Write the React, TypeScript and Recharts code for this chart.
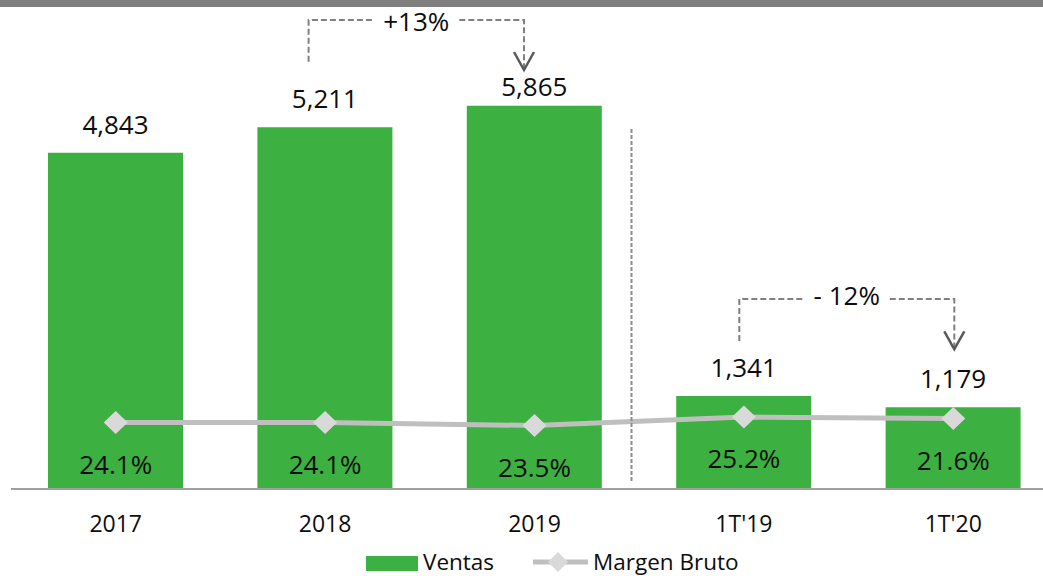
import React from "react";
import {
  ComposedChart,
  Bar,
  Line,
  XAxis,
  YAxis,
  LabelList,
  Legend,
  ReferenceLine,
} from "recharts";

// ---- data ----
const categories = ["2017", "2018", "2019", "1T'19", "1T'20"];
const ventas = [4843, 5211, 5520, 1341, 1179];
const ventasLabels = ["4,843", "5,211", "5,865", "1,341", "1,179"];
const margen = [24.1, 24.1, 23.5, 25.2, 24.9];
const margenLabels = ["24.1%", "24.1%", "23.5%", "25.2%", "21.6%"];
const growthTexts = ["+13%", "- 12%"];

const data = categories.map((c, i) => ({
  name: c,
  ventas: ventas[i],
  margen: margen[i],
}));

const GREEN = "#3CB040";
const FONT = "'Open Sans', 'Noto Sans', sans-serif";
const TEXT = "#0D0D0D";

const Diamond = (props: any) => {
  const { cx, cy } = props;
  if (cx == null || cy == null) return null;
  return (
    <polygon
      points={`${cx - 12},${cy} ${cx},${cy - 11.5} ${cx + 12},${cy} ${cx},${cy + 11.5}`}
      fill="#D9D9D9"
    />
  );
};

const BarValueLabel = (props: any) => {
  const { x, y, width, index } = props;
  const gap = index === 2 ? 10 : 19;
  return (
    <text
      x={x + width / 2}
      y={y - gap}
      textAnchor="middle"
      fontSize={26}
      fontFamily={FONT}
      fill={TEXT}
    >
      {ventasLabels[index]}
    </text>
  );
};

const LineValueLabel = (props: any) => {
  const { x, y, index } = props;
  return (
    <text
      x={x}
      y={y + 51}
      textAnchor="middle"
      fontSize={26}
      fontFamily={FONT}
      fill={TEXT}
    >
      {margenLabels[index]}
    </text>
  );
};

const Tick = (props: any) => {
  const { x, y, payload } = props;
  return (
    <text
      x={x}
      y={y + 43}
      textAnchor="middle"
      fontSize={23}
      fontFamily={FONT}
      fill={TEXT}
    >
      {payload.value}
    </text>
  );
};

const LegendContent = () => (
  <svg width={1060} height={27} style={{ display: "block" }}>
    <rect x={366} y={7} width={52} height={15} fill={GREEN} />
    <text x={423} y={21} fontSize={22.5} fontFamily={FONT} fill={TEXT}>
      Ventas
    </text>
    <line x1={533} x2={588} y1={13} y2={13} stroke="#BFBFBF" strokeWidth={5} />
    <polygon points="548,13 558,3 568,13 558,23" fill="#D9D9D9" />
    <text x={593} y={21} fontSize={22.5} fontFamily={FONT} fill={TEXT}>
      Margen Bruto
    </text>
  </svg>
);

// growth bracket drawn from the two category centres the reference line gives
const bracketShape =
  (label: string, leftOff: number, rightOff: number, textDy: number, leftDrop: number, tipDrop: number) =>
  (p: any) => {
    const xl = p.x1 + leftOff;
    const xr = p.x2 + rightOff;
    const y = p.y1;
    const xm = (xl + xr) / 2;
    const dash = { stroke: "#808080", strokeWidth: 2, strokeDasharray: "6 3", fill: "none" };
    return (
      <g>
        <polyline points={`${xl},${y + leftDrop} ${xl},${y} ${xm - 44},${y}`} {...dash} />
        <polyline points={`${xm + 43},${y} ${xr},${y} ${xr},${y + tipDrop - 2}`} {...dash} />
        <polyline
          points={`${xr - 10},${y + tipDrop - 18} ${xr},${y + tipDrop} ${xr + 10},${y + tipDrop - 18}`}
          stroke="#595959"
          strokeWidth={2.5}
          fill="none"
        />
        <text x={xm} y={y + textDy} textAnchor="middle" fontSize={26} fontFamily={FONT} fill={TEXT}>
          {label}
        </text>
      </g>
    );
  };

const separatorShape = (p: any) => (
  <line
    x1={p.x1 + 97}
    x2={p.x2 + 97}
    y1={p.y1}
    y2={p.y2}
    stroke="#8C8C8C"
    strokeWidth={2}
    strokeDasharray="4 2"
  />
);

export default function App() {
  return (
    <div
      style={{
        position: "absolute",
        left: 0,
        top: 0,
        width: 1043,
        height: 576,
        overflow: "hidden",
        background: "#fff",
      }}
    >
      <ComposedChart
        width={1060}
        height={576}
        data={data}
        margin={{ top: 3, right: 2, bottom: 0, left: 11 }}
      >
        <XAxis
          dataKey="name"
          height={60}
          tickLine={false}
          tickSize={0}
          tickMargin={0}
          axisLine={{ stroke: "#A0A0A0", strokeWidth: 2 }}
          tick={<Tick />}
          interval={0}
        />
        <YAxis yAxisId="v" domain={[0, 7000]} allowDataOverflow hide />
        <YAxis yAxisId="m" orientation="right" domain={[10.8, 108]} allowDataOverflow hide />

        <Bar
          dataKey="ventas"
          yAxisId="v"
          fill={GREEN}
          barSize={135}
          isAnimationActive={false}
        >
          <LabelList dataKey="ventas" content={<BarValueLabel />} />
        </Bar>
        <Line
          dataKey="margen"
          yAxisId="m"
          type="linear"
          stroke="#BFBFBF"
          strokeWidth={5}
          dot={<Diamond />}
          activeDot={false}
          isAnimationActive={false}
        >
          <LabelList dataKey="margen" content={<LineValueLabel />} />
        </Line>

        {/* separator between years and quarters */}
        <ReferenceLine
          yAxisId="v"
          segment={[{ x: "2019", y: 5185 }, { x: "2019", y: 105 }]}
          shape={separatorShape}
        />

        {/* +13% annotation: 2018 -> 2019 */}
        <ReferenceLine
          yAxisId="v"
          segment={[{ x: "2018", y: 6755 }, { x: "2019", y: 6755 }]}
          shape={bracketShape(growthTexts[0], -16.5, -10.5, 10.5, 41.7, 50)}
        />

        {/* -12% annotation: 1T'19 -> 1T'20 */}
        <ReferenceLine
          yAxisId="v"
          segment={[{ x: "1T'19", y: 2737 }, { x: "1T'20", y: 2737 }]}
          shape={bracketShape(growthTexts[1], -4.6, 1, 6, 42, 50.3)}
        />

        <Legend
          verticalAlign="bottom"
          align="left"
          height={27}
          wrapperStyle={{ left: 0, bottom: 0, width: 1060, height: 27 }}
          content={<LegendContent />}
        />
      </ComposedChart>
      <div
        style={{
          position: "absolute",
          left: 0,
          top: 0,
          width: 1043,
          height: 7,
          background: "#7F7F7F",
        }}
      />
    </div>
  );
}
